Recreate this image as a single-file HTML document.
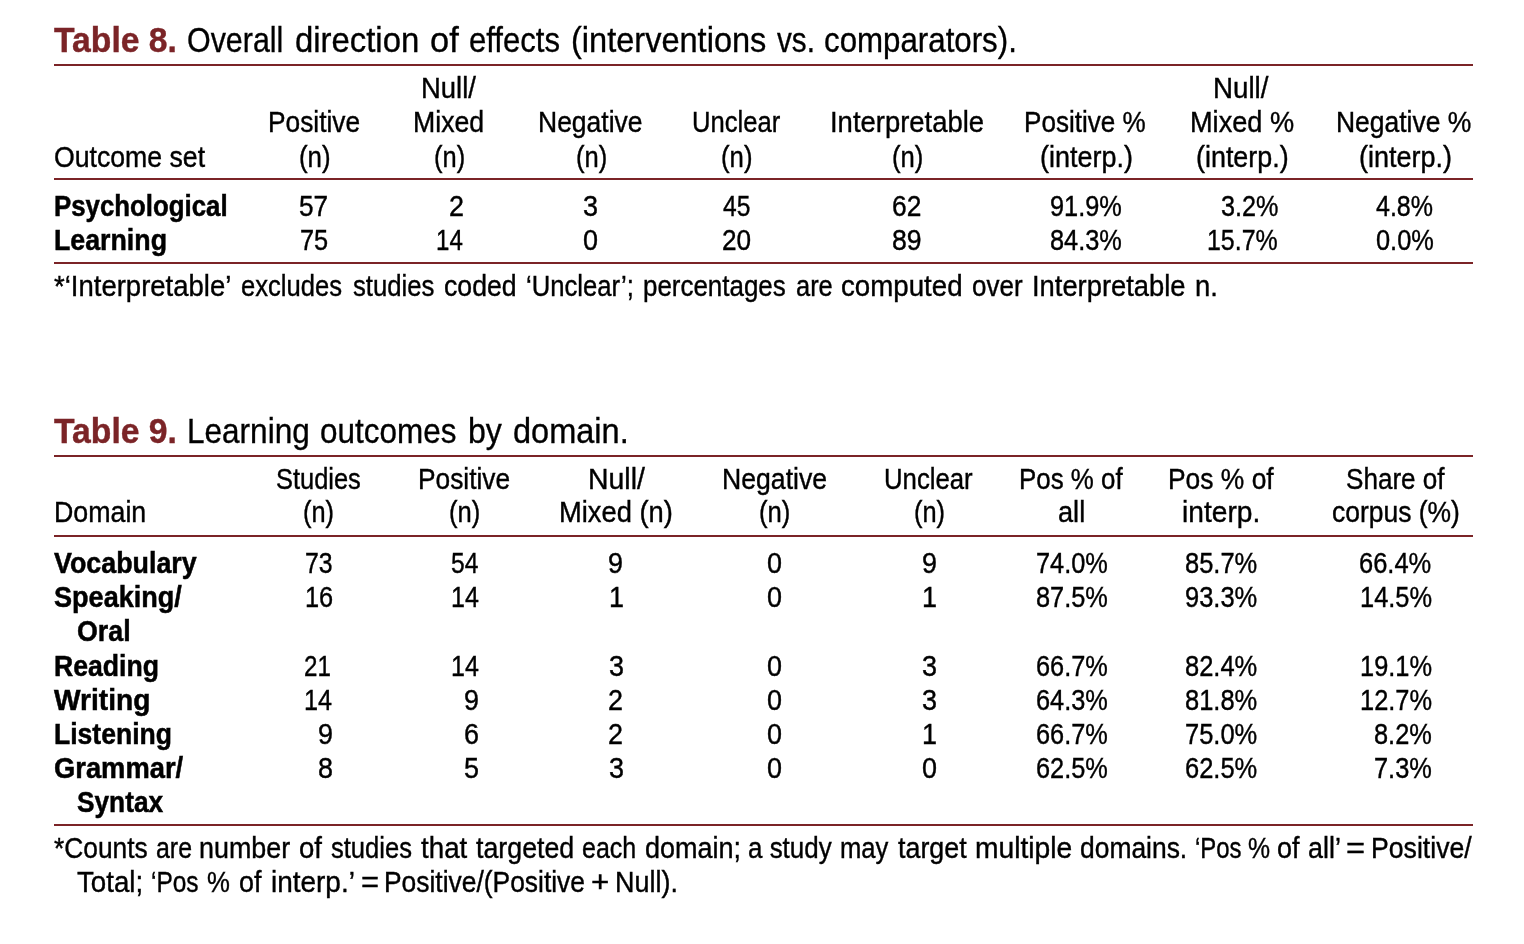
<!DOCTYPE html>
<html lang="en"><head><meta charset="utf-8"><title>Tables 8 and 9</title>
<style>
html,body{margin:0;padding:0;background:#fff}
body{width:1524px;height:944px;position:relative;overflow:hidden;font-family:"Liberation Sans",sans-serif;color:#000}
.w{position:absolute;white-space:pre;line-height:1;transform-origin:0 0;display:block}
.t,.tb{font-size:34.5px}.n,.b{font-size:29px}
.t{-webkit-text-stroke:0.35px #000}.n{-webkit-text-stroke:0.4px #000}
.b{font-weight:700;-webkit-text-stroke:0.5px #000}
.tb{font-weight:700;color:#7b2427;-webkit-text-stroke:0.4px #7b2427}
.r{position:absolute;left:54px;width:1419px;height:2px;background:#7b2427}
</style></head><body>
<section aria-label="Table 8">
<div class="r" style="top:64px"></div>
<div class="r" style="top:178px"></div>
<div class="r" style="top:262px"></div>
<span class="w tb" style="left:54.00px;top:23px;transform:scaleX(0.9765)">Table 8.</span>
<span class="w t" style="left:187.02px;top:23px;transform:scaleX(0.8817)">Overall</span>
<span class="w t" style="left:295.35px;top:23px;transform:scaleX(0.9527)">direction</span>
<span class="w t" style="left:430.20px;top:23px;transform:scaleX(0.9969)">of</span>
<span class="w t" style="left:469.40px;top:23px;transform:scaleX(0.9012)">effects</span>
<span class="w t" style="left:570.51px;top:23px;transform:scaleX(0.9433)">(interventions</span>
<span class="w t" style="left:776.60px;top:23px;transform:scaleX(0.8602)">vs.</span>
<span class="w t" style="left:823.69px;top:23px;transform:scaleX(0.9062)">comparators).</span>
<span class="w n" style="left:54.00px;top:143px;transform:scaleX(0.9188)">Outcome set</span>
<span class="w n" style="left:267.59px;top:108px;transform:scaleX(0.9074)">Positive</span>
<span class="w n" style="left:298.61px;top:143px;transform:scaleX(0.8906)">(n)</span>
<span class="w n" style="left:420.51px;top:74px;transform:scaleX(0.9463)">Null/</span>
<span class="w n" style="left:412.56px;top:108px;transform:scaleX(0.9201)">Mixed</span>
<span class="w n" style="left:434.02px;top:143px;transform:scaleX(0.8784)">(n)</span>
<span class="w n" style="left:538.27px;top:108px;transform:scaleX(0.9135)">Negative</span>
<span class="w n" style="left:576.12px;top:143px;transform:scaleX(0.8815)">(n)</span>
<span class="w n" style="left:691.93px;top:108px;transform:scaleX(0.8833)">Unclear</span>
<span class="w n" style="left:721.41px;top:143px;transform:scaleX(0.8876)">(n)</span>
<span class="w n" style="left:829.51px;top:108px;transform:scaleX(0.9462)">Interpretable</span>
<span class="w n" style="left:891.52px;top:143px;transform:scaleX(0.8845)">(n)</span>
<span class="w n" style="left:1024.40px;top:108px;transform:scaleX(0.8989)">Positive %</span>
<span class="w n" style="left:1039.57px;top:143px;transform:scaleX(0.9295)">(interp.)</span>
<span class="w n" style="left:1212.99px;top:74px;transform:scaleX(0.9551)">Null/</span>
<span class="w n" style="left:1189.63px;top:108px;transform:scaleX(0.9362)">Mixed %</span>
<span class="w n" style="left:1196.07px;top:143px;transform:scaleX(0.9274)">(interp.)</span>
<span class="w n" style="left:1336.47px;top:108px;transform:scaleX(0.9126)">Negative %</span>
<span class="w n" style="left:1358.77px;top:143px;transform:scaleX(0.9305)">(interp.)</span>
<span class="w b" style="left:54.00px;top:192px;transform:scaleX(0.8904)">Psychological</span>
<span class="w b" style="left:54.00px;top:226px;transform:scaleX(0.9226)">Learning</span>
<span class="w n" style="left:299.10px;top:192px;transform:scaleX(0.9028)">57</span>
<span class="w n" style="left:299.73px;top:226px;transform:scaleX(0.8729)">75</span>
<span class="w n" style="left:448.71px;top:192px;transform:scaleX(0.9300)">2</span>
<span class="w n" style="left:436.14px;top:226px;transform:scaleX(0.8298)">14</span>
<span class="w n" style="left:583.11px;top:192px;transform:scaleX(0.9300)">3</span>
<span class="w n" style="left:583.31px;top:226px;transform:scaleX(0.9300)">0</span>
<span class="w n" style="left:722.90px;top:192px;transform:scaleX(0.8481)">45</span>
<span class="w n" style="left:722.00px;top:226px;transform:scaleX(0.9028)">20</span>
<span class="w n" style="left:892.29px;top:192px;transform:scaleX(0.9094)">62</span>
<span class="w n" style="left:892.28px;top:226px;transform:scaleX(0.9194)">89</span>
<span class="w n" style="left:1049.73px;top:192px;transform:scaleX(0.8739)">91.9%</span>
<span class="w n" style="left:1049.73px;top:226px;transform:scaleX(0.8739)">84.3%</span>
<span class="w n" style="left:1220.53px;top:192px;transform:scaleX(0.8692)">3.2%</span>
<span class="w n" style="left:1207.28px;top:226px;transform:scaleX(0.8597)">15.7%</span>
<span class="w n" style="left:1376.40px;top:192px;transform:scaleX(0.8620)">4.8%</span>
<span class="w n" style="left:1375.52px;top:226px;transform:scaleX(0.8754)">0.0%</span>
<span class="w n" style="left:54.00px;top:272px;transform:scaleX(0.9485)">*‘Interpretable’</span>
<span class="w n" style="left:240.62px;top:272px;transform:scaleX(0.8826)">excludes</span>
<span class="w n" style="left:353.00px;top:272px;transform:scaleX(0.8864)">studies</span>
<span class="w n" style="left:443.78px;top:272px;transform:scaleX(0.9183)">coded</span>
<span class="w n" style="left:525.62px;top:272px;transform:scaleX(0.8849)">‘Unclear’;</span>
<span class="w n" style="left:642.81px;top:272px;transform:scaleX(0.8943)">percentages</span>
<span class="w n" style="left:795.62px;top:272px;transform:scaleX(0.8772)">are</span>
<span class="w n" style="left:841.45px;top:272px;transform:scaleX(0.9543)">computed</span>
<span class="w n" style="left:972.30px;top:272px;transform:scaleX(0.8968)">over</span>
<span class="w n" style="left:1032.31px;top:272px;transform:scaleX(0.9430)">Interpretable</span>
<span class="w n" style="left:1195.25px;top:272px;transform:scaleX(0.9466)">n.</span>
</section>
<section aria-label="Table 9">
<div class="r" style="top:455px"></div>
<div class="r" style="top:535px"></div>
<div class="r" style="top:824px"></div>
<span class="w tb" style="left:54.00px;top:414px;transform:scaleX(0.9765)">Table 9.</span>
<span class="w t" style="left:187.27px;top:414px;transform:scaleX(0.9140)">Learning</span>
<span class="w t" style="left:320.39px;top:414px;transform:scaleX(0.9116)">outcomes</span>
<span class="w t" style="left:467.94px;top:414px;transform:scaleX(0.9293)">by</span>
<span class="w t" style="left:513.16px;top:414px;transform:scaleX(0.9425)">domain.</span>
<span class="w n" style="left:54.00px;top:498px;transform:scaleX(0.9231)">Domain</span>
<span class="w n" style="left:275.52px;top:465px;transform:scaleX(0.8768)">Studies</span>
<span class="w n" style="left:302.92px;top:498px;transform:scaleX(0.8754)">(n)</span>
<span class="w n" style="left:418.09px;top:465px;transform:scaleX(0.9074)">Positive</span>
<span class="w n" style="left:449.42px;top:498px;transform:scaleX(0.8815)">(n)</span>
<span class="w n" style="left:587.54px;top:465px;transform:scaleX(0.9797)">Null/</span>
<span class="w n" style="left:558.92px;top:498px;transform:scaleX(0.9420)">Mixed (n)</span>
<span class="w n" style="left:721.86px;top:465px;transform:scaleX(0.9180)">Negative</span>
<span class="w n" style="left:759.42px;top:498px;transform:scaleX(0.8845)">(n)</span>
<span class="w n" style="left:884.03px;top:465px;transform:scaleX(0.8873)">Unclear</span>
<span class="w n" style="left:914.32px;top:498px;transform:scaleX(0.8754)">(n)</span>
<span class="w n" style="left:1019.41px;top:465px;transform:scaleX(0.8930)">Pos % of</span>
<span class="w n" style="left:1057.66px;top:498px;transform:scaleX(0.9371)">all</span>
<span class="w n" style="left:1167.78px;top:465px;transform:scaleX(0.9104)">Pos % of</span>
<span class="w n" style="left:1182.33px;top:498px;transform:scaleX(0.9711)">interp.</span>
<span class="w n" style="left:1346.30px;top:465px;transform:scaleX(0.8990)">Share of</span>
<span class="w n" style="left:1331.89px;top:498px;transform:scaleX(0.9117)">corpus (%)</span>
<span class="w b" style="left:54.00px;top:549px;transform:scaleX(0.9256)">Vocabulary</span>
<span class="w b" style="left:54.00px;top:583px;transform:scaleX(0.9333)">Speaking/</span>
<span class="w b" style="left:76.80px;top:617px;transform:scaleX(0.9237)">Oral</span>
<span class="w b" style="left:54.00px;top:652px;transform:scaleX(0.9176)">Reading</span>
<span class="w b" style="left:54.00px;top:686px;transform:scaleX(0.9711)">Writing</span>
<span class="w b" style="left:54.00px;top:720px;transform:scaleX(0.9153)">Listening</span>
<span class="w b" style="left:54.00px;top:754px;transform:scaleX(0.9426)">Grammar/</span>
<span class="w b" style="left:76.80px;top:788px;transform:scaleX(0.9055)">Syntax</span>
<span class="w n" style="left:304.74px;top:549px;transform:scaleX(0.8563)">73</span>
<span class="w n" style="left:305.05px;top:583px;transform:scaleX(0.8754)">16</span>
<span class="w n" style="left:304.07px;top:652px;transform:scaleX(0.8331)">21</span>
<span class="w n" style="left:304.36px;top:686px;transform:scaleX(0.8696)">14</span>
<span class="w n" style="left:318.26px;top:720px;transform:scaleX(0.9300)">9</span>
<span class="w n" style="left:318.26px;top:754px;transform:scaleX(0.9300)">8</span>
<span class="w n" style="left:450.75px;top:549px;transform:scaleX(0.8481)">54</span>
<span class="w n" style="left:450.67px;top:583px;transform:scaleX(0.8630)">14</span>
<span class="w n" style="left:450.67px;top:652px;transform:scaleX(0.8630)">14</span>
<span class="w n" style="left:464.36px;top:686px;transform:scaleX(0.9300)">9</span>
<span class="w n" style="left:464.36px;top:720px;transform:scaleX(0.9300)">6</span>
<span class="w n" style="left:464.46px;top:754px;transform:scaleX(0.9300)">5</span>
<span class="w n" style="left:608.46px;top:549px;transform:scaleX(0.9300)">9</span>
<span class="w n" style="left:608.50px;top:583px;transform:scaleX(0.9300)">1</span>
<span class="w n" style="left:608.66px;top:652px;transform:scaleX(0.9300)">3</span>
<span class="w n" style="left:608.41px;top:686px;transform:scaleX(0.9300)">2</span>
<span class="w n" style="left:608.41px;top:720px;transform:scaleX(0.9300)">2</span>
<span class="w n" style="left:608.66px;top:754px;transform:scaleX(0.9300)">3</span>
<span class="w n" style="left:767.36px;top:549px;transform:scaleX(0.9300)">0</span>
<span class="w n" style="left:767.36px;top:583px;transform:scaleX(0.9300)">0</span>
<span class="w n" style="left:767.36px;top:652px;transform:scaleX(0.9300)">0</span>
<span class="w n" style="left:767.36px;top:686px;transform:scaleX(0.9300)">0</span>
<span class="w n" style="left:767.36px;top:720px;transform:scaleX(0.9300)">0</span>
<span class="w n" style="left:767.36px;top:754px;transform:scaleX(0.9300)">0</span>
<span class="w n" style="left:921.96px;top:549px;transform:scaleX(0.9300)">9</span>
<span class="w n" style="left:921.89px;top:583px;transform:scaleX(0.9300)">1</span>
<span class="w n" style="left:922.06px;top:652px;transform:scaleX(0.9300)">3</span>
<span class="w n" style="left:922.06px;top:686px;transform:scaleX(0.9300)">3</span>
<span class="w n" style="left:921.89px;top:720px;transform:scaleX(0.9300)">1</span>
<span class="w n" style="left:922.01px;top:754px;transform:scaleX(0.9300)">0</span>
<span class="w n" style="left:1036.03px;top:549px;transform:scaleX(0.8739)">74.0%</span>
<span class="w n" style="left:1036.03px;top:583px;transform:scaleX(0.8739)">87.5%</span>
<span class="w n" style="left:1036.03px;top:652px;transform:scaleX(0.8739)">66.7%</span>
<span class="w n" style="left:1036.03px;top:686px;transform:scaleX(0.8739)">64.3%</span>
<span class="w n" style="left:1036.03px;top:720px;transform:scaleX(0.8739)">66.7%</span>
<span class="w n" style="left:1036.03px;top:754px;transform:scaleX(0.8739)">62.5%</span>
<span class="w n" style="left:1184.72px;top:549px;transform:scaleX(0.8789)">85.7%</span>
<span class="w n" style="left:1184.72px;top:583px;transform:scaleX(0.8789)">93.3%</span>
<span class="w n" style="left:1184.72px;top:652px;transform:scaleX(0.8789)">82.4%</span>
<span class="w n" style="left:1184.72px;top:686px;transform:scaleX(0.8789)">81.8%</span>
<span class="w n" style="left:1184.72px;top:720px;transform:scaleX(0.8789)">75.0%</span>
<span class="w n" style="left:1184.72px;top:754px;transform:scaleX(0.8789)">62.5%</span>
<span class="w n" style="left:1359.32px;top:549px;transform:scaleX(0.8789)">66.4%</span>
<span class="w n" style="left:1359.55px;top:583px;transform:scaleX(0.8761)">14.5%</span>
<span class="w n" style="left:1359.55px;top:652px;transform:scaleX(0.8761)">19.1%</span>
<span class="w n" style="left:1359.55px;top:686px;transform:scaleX(0.8761)">12.7%</span>
<span class="w n" style="left:1373.72px;top:720px;transform:scaleX(0.8754)">8.2%</span>
<span class="w n" style="left:1373.72px;top:754px;transform:scaleX(0.8754)">7.3%</span>
<span class="w n" style="left:54.00px;top:834px;transform:scaleX(0.9078)">*Counts</span>
<span class="w n" style="left:155.84px;top:834px;transform:scaleX(0.8596)">are</span>
<span class="w n" style="left:199.37px;top:834px;transform:scaleX(0.9266)">number</span>
<span class="w n" style="left:299.15px;top:834px;transform:scaleX(0.9491)">of</span>
<span class="w n" style="left:331.20px;top:834px;transform:scaleX(0.8809)">studies</span>
<span class="w n" style="left:421.10px;top:834px;transform:scaleX(0.9562)">that</span>
<span class="w n" style="left:476.00px;top:834px;transform:scaleX(0.9232)">targeted</span>
<span class="w n" style="left:582.34px;top:834px;transform:scaleX(0.8625)">each</span>
<span class="w n" style="left:644.67px;top:834px;transform:scaleX(0.9309)">domain;</span>
<span class="w n" style="left:747.71px;top:834px;transform:scaleX(0.8946)">a study</span>
<span class="w n" style="left:840.12px;top:834px;transform:scaleX(0.8824)">may</span>
<span class="w n" style="left:898.30px;top:834px;transform:scaleX(0.9258)">target</span>
<span class="w n" style="left:975.43px;top:834px;transform:scaleX(0.9734)">multiple</span>
<span class="w n" style="left:1080.19px;top:834px;transform:scaleX(0.9109)">domains.</span>
<span class="w n" style="left:1194.78px;top:834px;transform:scaleX(0.8249)">‘Pos</span>
<span class="w n" style="left:1248.25px;top:834px;transform:scaleX(0.8542)">%</span>
<span class="w n" style="left:1277.37px;top:834px;transform:scaleX(0.9284)">of</span>
<span class="w n" style="left:1308.07px;top:834px;transform:scaleX(0.9269)">all’</span>
<span class="w n" style="left:1345.77px;top:834px;transform:scaleX(1.1267)">=</span>
<span class="w n" style="left:1370.96px;top:834px;transform:scaleX(0.9185)">Positive/</span>
<span class="w n" style="left:76.80px;top:868px;transform:scaleX(0.9545)">Total;</span>
<span class="w n" style="left:150.66px;top:868px;transform:scaleX(0.8431)">‘Pos</span>
<span class="w n" style="left:207.41px;top:868px;transform:scaleX(0.8875)">%</span>
<span class="w n" style="left:238.57px;top:868px;transform:scaleX(0.9284)">of</span>
<span class="w n" style="left:271.44px;top:868px;transform:scaleX(0.9634)">interp.’</span>
<span class="w n" style="left:360.53px;top:868px;transform:scaleX(1.0667)">=</span>
<span class="w n" style="left:384.38px;top:868px;transform:scaleX(0.9101)">Positive/(Positive</span>
<span class="w n" style="left:590.92px;top:868px;transform:scaleX(1.0800)">+</span>
<span class="w n" style="left:614.54px;top:868px;transform:scaleX(0.9290)">Null).</span>
</section>
</body></html>
